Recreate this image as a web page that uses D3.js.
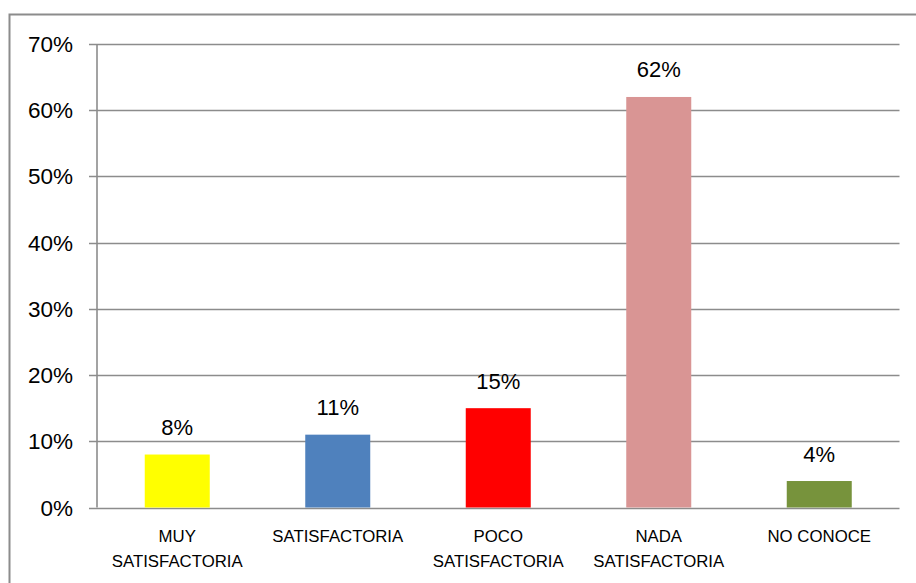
<!DOCTYPE html>
<html>
<head>
<meta charset="utf-8">
<script src="https://cdn.jsdelivr.net/npm/d3@7"></script>
<style>
  body { margin: 0; background: #fff; }
  text { font-family: "Liberation Sans", Arial, sans-serif; fill: #000; }
</style>
</head>
<body>
<svg class="chart" width="916" height="583"></svg>
<script>
var categories = [["MUY", "SATISFACTORIA"], ["SATISFACTORIA"], ["POCO", "SATISFACTORIA"], ["NADA", "SATISFACTORIA"], ["NO CONOCE"]];
var values = [0.08, 0.11, 0.15, 0.62, 0.04];
var colors = ["#FFFF00", "#4F81BD", "#FF0000", "#D99594", "#77933C"];
var ticks = [0, 0.1, 0.2, 0.3, 0.4, 0.5, 0.6, 0.7];

var svg = d3.select(".chart");
var gridColor = "#8c8c8c";

// outer chart border (right/bottom run off the picture)
svg.append("path")
    .attr("d", "M9.5,583 V14.5 H916")
    .attr("fill", "none")
    .attr("stroke", gridColor)
    .attr("stroke-width", 2);

var plotLeft = 97, plotRight = 899.5, plotTop = 44, plotBottom = 507.5;

var x = d3.scaleBand()
    .domain(d3.range(values.length))
    .range([plotLeft, plotRight])
    .paddingInner(0.595)
    .paddingOuter(0.2975);

var y = d3.scaleLinear()
    .domain([0, 0.7])
    .range([plotBottom, plotTop]);

// gridlines
svg.append("g")
  .selectAll("line")
  .data(ticks)
  .enter().append("line")
    .attr("x1", plotLeft - 8)
    .attr("x2", plotRight)
    .attr("y1", function(d) { return Math.round(y(d)) + 0.5; })
    .attr("y2", function(d) { return Math.round(y(d)) + 0.5; })
    .attr("stroke", gridColor)
    .attr("stroke-width", 1.6);

// y axis line
svg.append("line")
    .attr("x1", plotLeft).attr("x2", plotLeft)
    .attr("y1", plotTop).attr("y2", plotBottom)
    .attr("stroke", gridColor)
    .attr("stroke-width", 1.6);

// y tick labels
svg.append("g")
  .selectAll("text")
  .data(ticks)
  .enter().append("text")
    .attr("x", 73)
    .attr("y", function(d) { return y(d) + 8; })
    .attr("text-anchor", "end")
    .style("font-size", "22.5px")
    .text(d3.format(".0%"));

// bars
svg.append("g")
  .selectAll("rect")
  .data(values)
  .enter().append("rect")
    .attr("x", function(d, i) { return x(i); })
    .attr("y", function(d) { return y(d); })
    .attr("width", x.bandwidth())
    .attr("height", function(d) { return plotBottom - y(d); })
    .attr("fill", function(d, i) { return colors[i]; });

// value labels
svg.append("g")
  .selectAll("text")
  .data(values)
  .enter().append("text")
    .attr("x", function(d, i) { return x(i) + x.bandwidth() / 2; })
    .attr("y", function(d) { return y(d) - 19.5; })
    .attr("text-anchor", "middle")
    .style("font-size", "22px")
    .text(d3.format(".0%"));

// category labels
var cat = svg.append("g")
  .selectAll("text")
  .data(categories)
  .enter().append("text")
    .attr("text-anchor", "middle")
    .style("font-size", "16.8px");

cat.selectAll("tspan")
  .data(function(d, i) { return d.map(function(s) { return {s: s, i: i}; }); })
  .enter().append("tspan")
    .attr("x", function(d) { return x(d.i) + x.bandwidth() / 2; })
    .attr("y", function(d, j) { return 541.5 + j * 25; })
    .text(function(d) { return d.s; });
</script>
</body>
</html>
